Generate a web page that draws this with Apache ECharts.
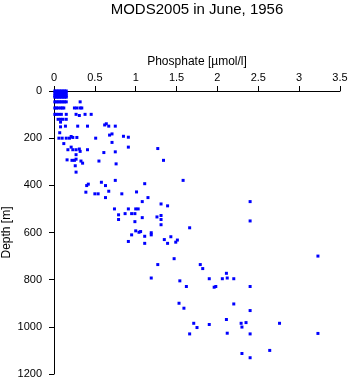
<!DOCTYPE html>
<html>
<head>
<meta charset="utf-8">
<script src="https://cdn.jsdelivr.net/npm/echarts@6/dist/echarts.min.js"></script>
<style>
html,body{margin:0;padding:0;background:#fff;}
#chart{width:350px;height:384px;}
</style>
</head>
<body>
<div id="chart"></div>
<script>
var titleText = 'MODS2005 in June, 1956';
var xName = 'Phosphate [\u00b5mol/l]';
var yName = 'Depth [m]';

// Phosphate [µmol/l] values
var phosphate = [
  0.01,0.03,0.05,0.07,0.09,0.11,0.13,0.15,
  0.01,0.03,0.05,0.07,0.09,0.11,0.13,0.15,
  0.01,0.03,0.05,0.07,0.09,0.11,0.13,0.15,
  0.01,0.03,0.05,0.07,0.09,0.11,0.13,0.15,
  0.01,0.03,0.05,0.07,0.09,0.11,0.13,0.15,0.32,
  0.01,0.03,0.05,0.08,0.10,0.12,0.25,0.28,0.32,0.34,
  0.01,0.03,0.06,0.09,0.15,0.27,0.38,0.455,0.31,
  0.05,0.08,0.11,0.15,
  0.08,
  0.08,0.14,0.29,0.41,0.67,0.75,0.62,0.64,
  0.07,
  0.71,0.68,0.85,0.91,0.21,
  0.06,0.10,0.15,0.19,0.51,0.28,0.23,
  0.71,0.12,
  0.17,0.23,0.27,0.41,0.21,0.91,0.31,0.32,
  0.27,
  0.16,0.22,0.25,1.34,0.27,0.33,0.55,0.35,
  0.26,0.27,0.61,0.75,1.27,0.76,
  0.58,0.63,0.40,0.67,0.63,1.15,
  0.75,1.58,
  0.83,0.50,0.54,
  1.01,1.11,0.42,0.39,
  1.08,2.40,1.31,1.39,
  0.74,0.91,1.00,1.03,
  0.79,0.79,1.31,0.87,0.95,0.99,0.99,1.08,
  1.00,1.04,1.06,0.95,1.19,0.91,1.11,1.11,1.39,1.19,
  1.26,1.31,1.31,
  1.35,1.43,1.49,1.51,
  1.47,1.27,1.79,1.19,2.12,1.66,1.82,
  1.54,1.62,1.98,2.40,1.53,1.59,1.71,2.29,2.76,1.75,1.66,2.40,
  2.40,3.23,
  1.90,2.06,2.20,2.11,
  1.96,
  2.20,2.40,1.90,2.11,2.12,2.30,2.35,3.23,
  2.30,2.40,2.64
];

// Depth [m] values, paired with phosphate above
var depth = [
  0,0,0,0,0,0,0,0,
  10,10,10,10,10,10,10,10,
  20,20,20,20,20,20,20,20,
  26,26,26,26,26,26,26,26,
  46,46,46,46,46,46,46,46,46,
  72,72,72,72,72,72,72,72,72,72,
  99,99,99,99,99,99,99,99,104,
  120,120,120,120,
  132,
  152,149,149,149,149,149,144,139,
  177,
  182,187,192,196,193,
  200,200,200,200,200,197,197,
  218,223,
  249,249,249,249,238,238,246,256,
  270,
  292,294,294,294,289,297,297,306,
  317,344,261,258,244,309,
  387,401,401,425,452,452,
  379,379,
  436,436,436,
  428,393,395,429,
  469,469,479,487,
  500,500,500,500,
  525,545,545,520,520,520,554,537,
  593,599,596,610,610,638,616,646,646,601,
  534,528,567,
  630,618,641,632,
  711,736,736,793,793,580,753,
  805,829,829,829,900,921,985,985,985,1003,1030,1030,
  551,700,
  796,796,796,773,
  832,
  903,931,990,969,1027,1001,982,1028,
  1113,1131,1100
];

var points = phosphate.map(function (p, i) { return [p, depth[i]]; });

var FONT = "'Liberation Sans', Arial, Helvetica, sans-serif";

var chart = echarts.init(document.getElementById('chart'), null, {renderer: 'canvas'});
chart.setOption({
  animation: false,
  backgroundColor: '#ffffff',
  title: {
    text: titleText,
    left: 197,
    top: 2,
    padding: 0,
    textAlign: 'center',
    textStyle: {fontFamily: FONT, fontSize: 15, fontWeight: 'normal', color: '#000'}
  },
  grid: {left: 54, top: 91, right: 10, bottom: 10, containLabel: false, outerBoundsMode: 'none'},
  xAxis: {
    type: 'value',
    position: 'top',
    min: 0, max: 3.5, interval: 0.5,
    name: xName,
    nameLocation: 'middle',
    nameGap: 23,
    nameMoveOverlap: false,
    nameTextStyle: {fontFamily: FONT, fontSize: 12, color: '#000'},
    axisLine: {show: true, onZero: false, lineStyle: {color: '#000', width: 1}},
    axisTick: {show: true, inside: false, length: 5, lineStyle: {color: '#000'}},
    axisLabel: {fontFamily: FONT, fontSize: 11, color: '#000', margin: 8,
      formatter: function (v) { return String(v); }},
    splitLine: {show: false}
  },
  yAxis: {
    type: 'value',
    inverse: true,
    min: 0, max: 1200, interval: 200,
    name: yName,
    nameLocation: 'middle',
    nameRotate: 90,
    nameGap: 41,
    nameMoveOverlap: false,
    nameTextStyle: {fontFamily: FONT, fontSize: 12, color: '#000'},
    axisLine: {show: true, onZero: false, lineStyle: {color: '#000', width: 1}},
    axisTick: {show: true, inside: false, length: 5, lineStyle: {color: '#000'}},
    axisLabel: {fontFamily: FONT, fontSize: 11, color: '#000', margin: 12,
      formatter: function (v) { return String(v); }},
    splitLine: {show: false}
  },
  series: [{
    type: 'scatter',
    data: points,
    symbol: 'rect',
    symbolSize: 3,
    itemStyle: {color: '#0000ff', opacity: 1},
    clip: false
  }]
});
</script>
</body>
</html>
